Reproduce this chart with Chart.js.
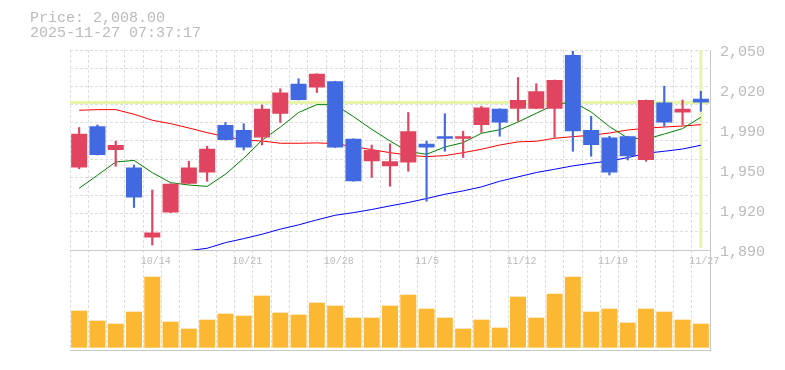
<!DOCTYPE html>
<html>
<head>
<meta charset="utf-8">
<script src="https://cdn.jsdelivr.net/npm/chart.js"></script>
<style>
  body { margin: 0; background: #fff; overflow: hidden; }
  #wrap { position: relative; width: 785px; height: 370px; }
  #info { position: absolute; left: 30px; top: 11px; font: 15px/15px "Liberation Mono", monospace; color: #bbb; white-space: pre; }
  #mycanvas { display: block; }
</style>
</head>
<body>
<div id="wrap">
  <div id="info">Price: 2,008.00
2025-11-27 07:37:17</div>
  <canvas id="mycanvas" width="785" height="370"></canvas>
</div>
<script>
// daily candles, 2025-10-07 .. 2025-11-27
var dates = ['10/7','10/8','10/9','10/10','10/14','10/15','10/16','10/17','10/20','10/21',
             '10/22','10/23','10/24','10/27','10/28','10/29','10/30','10/31','11/4','11/5',
             '11/6','11/7','11/10','11/11','11/12','11/13','11/14','11/17','11/18','11/19',
             '11/20','11/21','11/25','11/26','11/27'];
var dateTicks = ['10/14','10/21','10/28','11/5','11/12','11/19','11/27'];

var open  = [1956,1989,1970,1956,1900,1920,1943,1952,1990,1986,1980,1999,2023,2020,2025,1979,1961,1957,1960,1975,
             1981,1979,1990,2003,2003,2003,2003,2046,1986,1980,1981,1962,2008,2000,2011];
var high  = [1988,1990,1977,1958,1938,1943,1961,1973,1992,1991,2006,2019,2027,2031,2025,1979,1974,1975,2000,1977,
             1999,1985,2005,2003,2028,2023,2026,2049,1997,1981,1981,2010,2021,2010,2017];
var low   = [1955,1966,1957,1924,1894,1920,1943,1945,1978,1970,1974,1992,2010,2016,1972,1945,1948,1941,1953,1929,
             1969,1964,1984,1981,1993,2003,1980,1969,1965,1950,1962,1961,1989,1990,2001];
var close = [1983,1966,1974,1932,1904,1943,1956,1971,1978,1972,2003,2016,2010,2031,1972,1945,1970,1961,1985,1972,
             1979,1981,2004,1992,2010,2017,2026,1985,1974,1952,1965,2010,1992,2003,2008];

var ma5  = [1939.4,1949.8,1960.4,1961.7,1951.9,1943.9,1942.0,1940.9,1950.6,1963.4,1977.8,1988.3,2000.0,2006.3,2006.3,
            1996.7,1986.6,1977.2,1968.7,1966.6,1972.4,1975.9,1983.4,1986.2,1992.4,1999.4,2006.3,2008.5,2000.4,1988.7,
            1979.6,1978.6,1982.8,1987.1,1996.2];
var ma25 = [2001.8,2002.3,2002.3,1998.6,1993.8,1991.1,1987.6,1983.9,1980.7,1978.0,1977.2,1975.4,1975.4,1975.7,1975.1,
            1972.7,1970.3,1967.9,1965.8,1964.7,1965.5,1967.9,1970.6,1974.0,1976.5,1977.0,1979.4,1980.7,1981.8,1983.6,
            1986.0,1987.4,1988.4,1989.2,1990.3];
var ma75 = [null,null,null,null,null,null,1889.5,1891.4,1895.9,1899.1,1902.6,1906.7,1910.1,1914.1,1917.8,
            1919.9,1922.4,1925.3,1928.0,1931.2,1934.6,1937.3,1940.5,1945.0,1948.5,1952.0,1954.6,1957.3,1959.4,1961.2,
            1963.9,1967.4,1969.0,1970.8,1973.8];

// volume, thousand shares
var volume = [111,81,72,108,213,78,57,84,102,96,156,105,99,135,126,90,90,126,159,117,
              90,57,84,60,153,90,162,213,108,117,75,117,108,84,72];

var lastPrice = 2008;
var priceTicks = [1890,1922,1954,1986,2018,2050];
var priceTickLabels = ['1,890','1,920','1,950','1,990','2,020','2,050'];

var upColor = '#e0445f';
var downColor = '#4169e1';
var gridColor = '#dddddd';
var lineColor = '#c8c8c8';
var textColor = '#bbbbbb';

var lastPriceLines = {
    id: 'lastPriceLines',
    beforeDatasetsDraw: function (chart) {
        var ctx = chart.ctx;
        var area = chart.chartArea;
        var py = chart.scales.y.getPixelForValue(lastPrice);
        var px = chart.scales.x.getPixelForValue(dates.length - 1);
        ctx.save();
        ctx.strokeStyle = '#e6f5aa';
        ctx.lineWidth = 3;
        ctx.beginPath();
        ctx.moveTo(area.left, py);
        ctx.lineTo(area.right, py);
        ctx.moveTo(px, chart.scales.y.top);
        ctx.lineTo(px, chart.scales.y.bottom - 2);
        ctx.stroke();
        ctx.restore();
    }
};

function showGraph()
{
    var bodies = [];
    var wicks = [];
    var colors = [];
    for (var i = 0; i < dates.length; i++) {
        bodies.push([open[i], close[i]]);
        wicks.push([low[i], high[i]]);
        colors.push(close[i] >= open[i] ? upColor : downColor);
    }

    var chartdata = {
        labels: dates,
        datasets: [
            {
                type: 'bar', label: 'body', data: bodies, yAxisID: 'y', order: 0,
                backgroundColor: colors, grouped: false,
                barPercentage: 0.875, categoryPercentage: 1
            },
            {
                type: 'bar', label: 'wick', data: wicks, yAxisID: 'y', order: 1,
                backgroundColor: colors, grouped: false, barThickness: 1.5
            },
            {
                type: 'line', label: 'MA5', data: ma5, yAxisID: 'y', order: 2,
                borderColor: '#008000', borderWidth: 1, pointRadius: 0, tension: 0
            },
            {
                type: 'line', label: 'MA25', data: ma25, yAxisID: 'y', order: 3,
                borderColor: '#ff0000', borderWidth: 1, pointRadius: 0, tension: 0
            },
            {
                type: 'line', label: 'MA75', data: ma75, yAxisID: 'y', order: 4,
                borderColor: '#0000ff', borderWidth: 1, pointRadius: 0, tension: 0
            },
            {
                type: 'bar', label: 'volume', data: volume, yAxisID: 'yv', order: 5,
                backgroundColor: '#fdb833', grouped: false,
                barPercentage: 0.875, categoryPercentage: 1
            }
        ]
    };

    var ctx = document.getElementById('mycanvas');

    var mycanvas = new Chart(ctx, {
        type: 'bar',
        data: chartdata,
        plugins: [lastPriceLines],
        options: {
            responsive: false,
            animation: false,
            events: [],
            layout: { padding: { left: 70, top: 50, right: 0, bottom: 20 } },
            plugins: { legend: { display: false }, tooltip: { enabled: false } },
            scales: {
                y: {
                    position: 'right', stack: 'panes', stackWeight: 2,
                    min: 1890, max: 2050,
                    afterBuildTicks: function (scale) {
                        var t = [];
                        for (var k = 0; k <= 11; k++) {
                            t.push({ value: 1890 + k * 160 / 11, grid: true });
                        }
                        for (var j = 0; j < priceTicks.length; j++) {
                            t.push({ value: priceTicks[j], text: priceTickLabels[j] });
                        }
                        scale.ticks = t;
                    },
                    afterFit: function (scale) {
                        scale.width = 75;
                        scale.paddingTop = 0;
                        scale.paddingBottom = 0;
                    },
                    grid: {
                        drawTicks: false,
                        color: function (c) {
                            if (!c.tick || !c.tick.grid || c.tick.value === 1890) return 'rgba(0,0,0,0)';
                            return gridColor;
                        }
                    },
                    border: { color: lineColor, dash: [3, 2] },
                    ticks: {
                        autoSkip: false, padding: 10, labelOffset: 2, color: textColor,
                        font: { family: 'Liberation Mono', size: 15 },
                        callback: function (v, i, ticks) { return ticks[i].text || ''; }
                    }
                },
                yv: {
                    position: 'right', stack: 'panes', stackWeight: 1,
                    min: -7, max: 293,
                    afterBuildTicks: function (scale) { scale.ticks = [{ value: -7 }]; },
                    afterFit: function (scale) { scale.width = 75; },
                    grid: { drawTicks: false, color: lineColor },
                    border: { color: lineColor },
                    ticks: { display: false }
                },
                x: {
                    type: 'category',
                    offset: true,
                    position: { y: 1890 },
                    grid: { offset: true, drawTicks: false, color: gridColor },
                    border: { color: lineColor, dash: [3, 2] },
                    ticks: {
                        autoSkip: false, maxRotation: 0, align: 'start', labelOffset: -11.5,
                        padding: 5, color: textColor,
                        font: { family: 'Liberation Mono', size: 10 },
                        callback: function (v, i) {
                            return dateTicks.indexOf(dates[i]) >= 0 ? dates[i] : '';
                        }
                    }
                }
            }
        }
    });
}

showGraph();
</script>
</body>
</html>
